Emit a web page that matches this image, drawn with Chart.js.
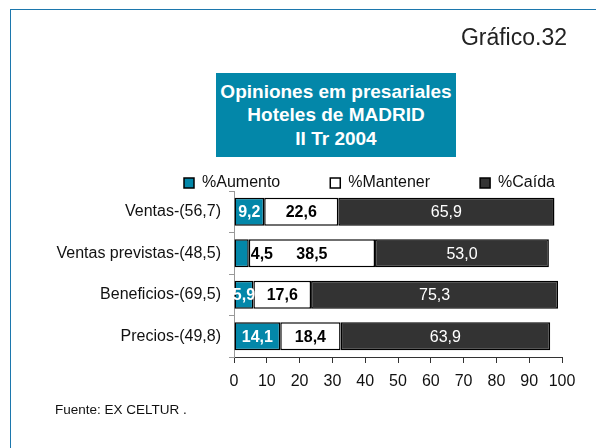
<!DOCTYPE html>
<html lang="es">
<head>
<meta charset="utf-8">
<title>Gráfico.32</title>
<script src="https://cdn.jsdelivr.net/npm/chart.js@4.4.1/dist/chart.umd.min.js"></script>
<style>
	html, body {
		margin: 0;
		padding: 0;
		background: #fff;
		font-family: 'Liberation Sans', Arial, sans-serif;
	}
	.page {
		position: relative;
		width: 596px;
		height: 448px;
		overflow: hidden;
	}
	.frame {
		position: absolute;
		left: 10px;
		top: 9px;
		width: 800px;
		height: 800px;
		border-left: 1.5px solid #1c77ad;
		border-top: 1.5px solid #1c77ad;
	}
	#chart {
		position: absolute;
		left: 0;
		top: 0;
	}
	.number {
		position: absolute;
		left: 440px;
		top: 26px;
		width: 127px;
		text-align: right;
		font-size: 23px;
		line-height: 23px;
		color: #222;
	}
	.title-box {
		position: absolute;
		left: 216px;
		top: 73px;
		width: 240px;
		height: 84px;
		background: #0387a9;
		color: #fff;
		font-weight: bold;
		font-size: 19px;
		line-height: 23.5px;
		display: flex;
		flex-direction: column;
		justify-content: center;
		align-items: center;
		text-align: center;
	}
	.source {
		position: absolute;
		left: 55px;
		top: 403px;
		font-size: 13.5px;
		line-height: 13.5px;
		color: #111;
	}
</style>
</head>
<body>
<div class="page">
	<div class="frame"></div>
	<canvas id="chart" width="596" height="448"></canvas>
	<div class="number">Gráfico.32</div>
	<div class="title-box">
		<div>Opiniones em presariales</div>
		<div>Hoteles de MADRID</div>
		<div>II Tr 2004</div>
	</div>
	<div class="source">Fuente: EX CELTUR .</div>
</div>
<script>
const CATEGORIES = [
	'Ventas-(56,7)',
	'Ventas previstas-(48,5)',
	'Beneficios-(69,5)',
	'Precios-(49,8)',
];
const AUMENTO = [9.2, 4.5, 5.9, 14.1];
const MANTENER = [22.6, 38.5, 17.6, 18.4];
const CAIDA = [65.9, 53.0, 75.3, 63.9];
const X_TICKS = [0, 10, 20, 30, 40, 50, 60, 70, 80, 90, 100];

const TEAL = '#0387a9';
const DARK = '#333333';
const FONT = "'Liberation Sans', Arial, sans-serif";

Chart.defaults.font.family = FONT;
Chart.defaults.font.size = 16;
Chart.defaults.color = '#111';

function formatValue(v) {
	return v.toFixed(1).replace('.', ',');
}

// legend sits close to the plot and starts left of the axis
const legendPlacement = {
	id: 'legendPlacement',
	beforeInit(chart) {
		const fit = chart.legend.fit;
		chart.legend.fit = function () {
			fit.bind(chart.legend)();
			this.height -= 10;
		};
	},
	afterLayout(chart) {
		chart.legend.left = 134;
		chart.legend.right = 700;
	},
};

const barLabels = {
	id: 'barLabels',
	afterDatasetsDraw(chart) {
		const ctx = chart.ctx;
		ctx.save();
		ctx.textBaseline = 'middle';
		chart.data.datasets.forEach((dataset, i) => {
			const meta = chart.getDatasetMeta(i);
			meta.data.forEach((bar, j) => {
				const value = dataset.data[j];
				const mid = (bar.x + bar.base) / 2;
				ctx.font = (i === 2 ? 'normal' : 'bold') + ' 16px ' + FONT;
				ctx.fillStyle = i === 1 ? '#000' : '#fff';
				ctx.textAlign = 'center';
				let x = mid;
				if (i === 0 && value < 5) {
					// too narrow: put the label just outside
					ctx.fillStyle = '#000';
					ctx.textAlign = 'left';
					x = bar.x + 2;
				}
				ctx.fillText(formatValue(value), x, bar.y + 1);
			});
		});
		ctx.restore();
	},
};

const chartData = {
	labels: CATEGORIES,
	datasets: [
		{
			label: '%Aumento',
			data: AUMENTO,
			backgroundColor: TEAL,
		},
		{
			label: '%Mantener',
			data: MANTENER,
			backgroundColor: '#ffffff',
		},
		{
			label: '%Caída',
			data: CAIDA,
			backgroundColor: DARK,
		},
	],
};

chartData.datasets.forEach(dataset => {
	dataset.borderColor = '#000';
	dataset.borderWidth = 1.5;
	dataset.borderSkipped = false;
	dataset.barPercentage = 0.67;
	dataset.categoryPercentage = 1;
});

new Chart(document.getElementById('chart'), {
	type: 'bar',
	data: chartData,
	options: {
		indexAxis: 'y',
		responsive: false,
		animation: false,
		devicePixelRatio: 1,
		layout: {
			padding: { left: 0, right: 34, top: 125, bottom: 0 },
		},
		scales: {
			x: {
				stacked: true,
				min: 0,
				max: 100,
				afterBuildTicks: scale => {
					scale.ticks = X_TICKS.map(v => ({ value: v }));
				},
				afterFit: scale => {
					scale.height = 91;
				},
				ticks: {
					padding: 9,
					color: '#111',
					font: { size: 16 },
				},
				grid: {
					drawOnChartArea: false,
					tickLength: 6,
					color: '#333',
				},
				border: { color: '#333', width: 1 },
			},
			y: {
				stacked: true,
				afterFit: scale => {
					scale.width = 234;
				},
				ticks: {
					padding: 8,
					color: '#111',
					font: { size: 16 },
				},
				grid: {
					drawOnChartArea: false,
					tickLength: 5,
					color: '#999',
				},
				border: { color: '#999', width: 1 },
			},
		},
		plugins: {
			legend: {
				position: 'top',
				align: 'start',
				labels: {
					boxWidth: 10,
					boxHeight: 10,
					padding: 50,
					color: '#111',
					font: { size: 16 },
				},
			},
			tooltip: {
				enabled: false,
			},
		},
	},
	plugins: [legendPlacement, barLabels],
});
</script>
</body>
</html>
